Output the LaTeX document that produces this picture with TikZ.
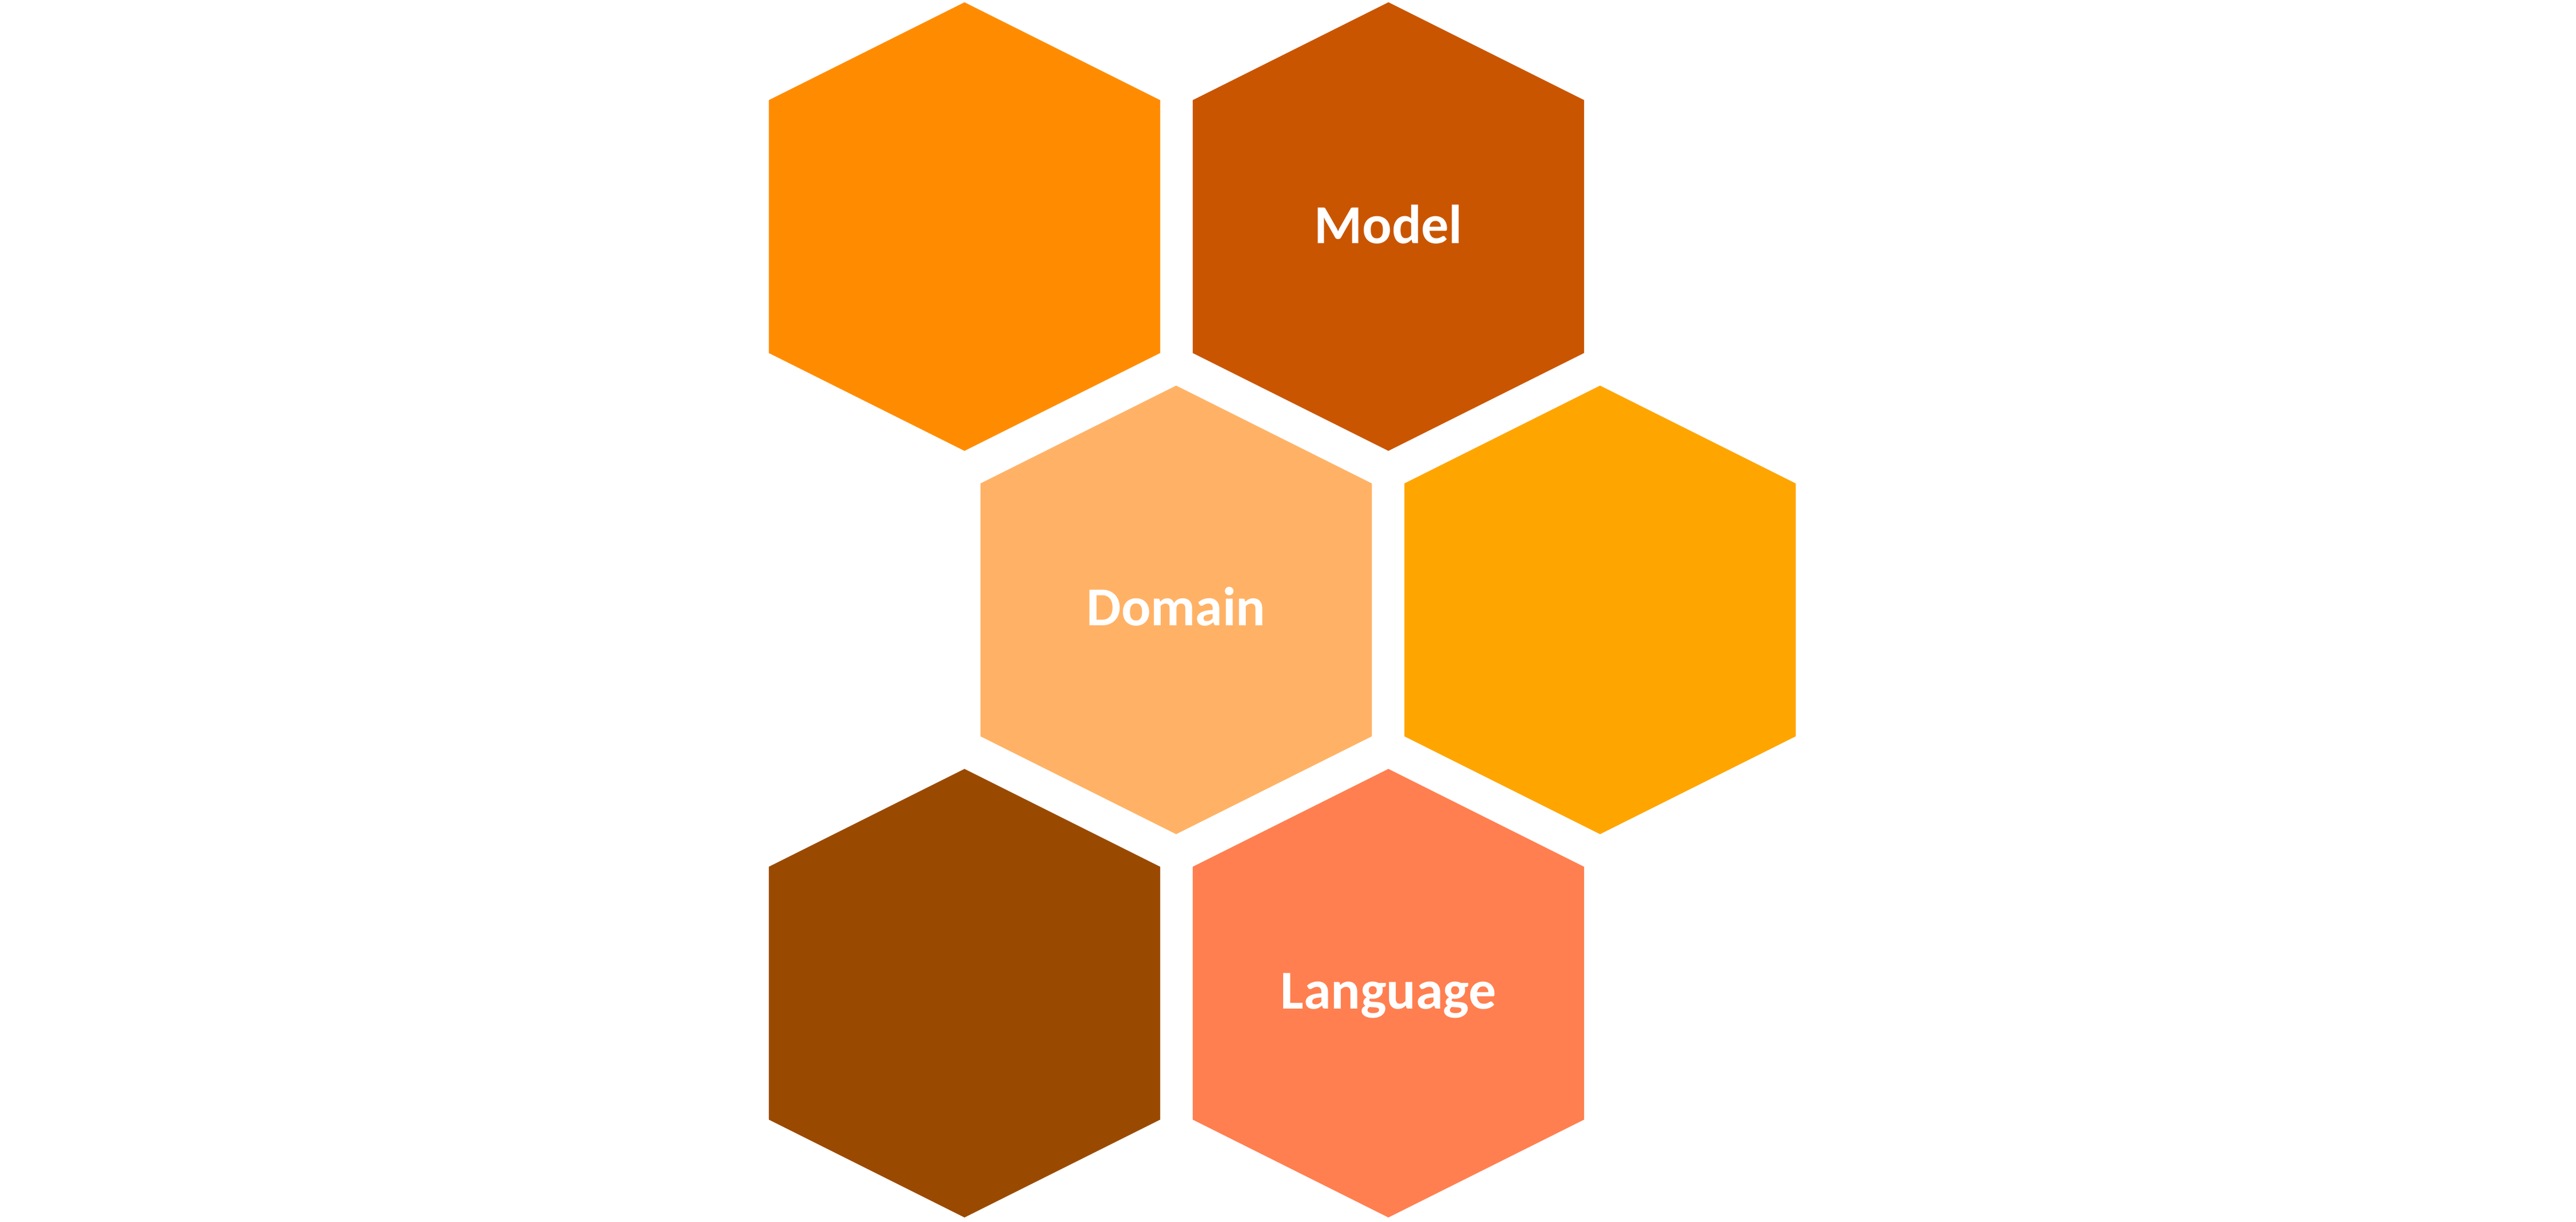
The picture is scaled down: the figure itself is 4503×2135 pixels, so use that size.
\documentclass[tikz,border=0pt]{standalone}
\usepackage{fontspec}
\setmainfont{Carlito}
\definecolor{hexA}{HTML}{FF8C00}
\definecolor{hexB}{HTML}{CA5500}
\definecolor{hexC}{HTML}{FFB266}
\definecolor{hexD}{HTML}{FFA500}
\definecolor{hexE}{HTML}{9A4A00}
\definecolor{hexF}{HTML}{FF7F50}
\tikzset{
  hexagon/.pic={\fill[pic actions] (0,-392) -- (342,-221) -- (342,221) -- (0,392) -- (-342,221) -- (-342,-221) -- cycle;},
  hexlabel/.style={anchor=base, text=white, inner sep=0pt, font=\fontsize{27.3}{32}\selectfont\bfseries}
}
\begin{document}
\begin{tikzpicture}[x=0.01cm, y=-0.01cm]
\useasboundingbox (0,0) rectangle (4503,2135);
\pic[fill=hexA] (hA) at (1686,396) {hexagon};
\pic[fill=hexB] (hB) at (2427,396) {hexagon};
\pic[fill=hexC] (hC) at (2056,1066) {hexagon};
\pic[fill=hexD] (hD) at (2797,1066) {hexagon};
\pic[fill=hexE] (hE) at (1686,1736) {hexagon};
\pic[fill=hexF] (hF) at (2427,1736) {hexagon};
\node[hexlabel] (model) at (2427,425) {Model};
\node[hexlabel] (domain) at (2056,1093) {Domain};
\node[hexlabel] (language) at (2427,1763) {Language};
\end{tikzpicture}
\end{document}
